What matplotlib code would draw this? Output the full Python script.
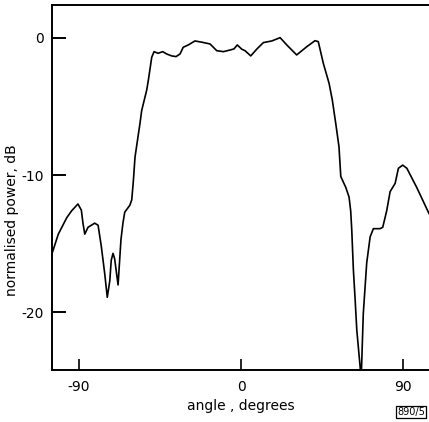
import matplotlib
matplotlib.use("Agg")
import matplotlib.pyplot as plt

plt.rcParams['axes.unicode_minus'] = False
plt.rcParams['font.family'] = ['DejaVu Sans']

angle_deg = [-105.2, -101.5, -96.8, -94.1, -90.6, -88.7, -87.8, -86.8, -85.0, -81.3,
             -79.4, -77.6, -75.7, -74.3, -72.9, -72.1, -71.1, -70.2, -68.3, -67.5,
             -66.7, -65.6, -64.6, -61.8, -60.7, -59.8, -58.9, -57.9, -56.1, -55.2,
             -52.4, -51.5, -49.6, -48.3, -46.1, -43.5, -41.3, -38.5, -36.1, -33.9,
             -32.1, -29.3, -25.6, -21.8, -17.2, -13.5, -9.8, -6.1, -3.9, -2.1,
             0.4, 2.2, 5.4, 8.7, 12.4, 17.1, 21.7, 25.4, 30.9, 36.5,
             41.1, 42.9, 45.7, 48.9, 50.7, 52.6, 54.4, 55.4, 58.2, 60.0,
             60.9, 61.5, 62.4, 63.3, 64.3, 66.1, 66.7, 67.9, 69.8, 71.7,
             73.5, 77.2, 78.7, 80.9, 82.8, 85.6, 87.4, 89.8, 92.1, 97.6, 104.4]
power_db = [-15.8, -14.3, -13.1, -12.6, -12.1, -12.55, -13.5, -14.3, -13.8, -13.5,
            -13.65, -15.2, -17.2, -18.9, -17.7, -16.2, -15.7, -16.1, -18.0, -16.35,
            -14.7, -13.5, -12.7, -12.2, -11.8, -10.4, -8.7, -7.8, -6.2, -5.3,
            -3.8, -3.1, -1.4, -1.0, -1.12, -1.0, -1.17, -1.31, -1.36, -1.17,
            -0.68, -0.51, -0.22, -0.31, -0.44, -0.93, -1.0, -0.88, -0.80, -0.51,
            -0.82, -0.93, -1.31, -0.82, -0.34, -0.22, 0.02, -0.51, -1.24, -0.64,
            -0.2, -0.27, -1.85, -3.31, -4.53, -6.23, -7.93, -10.1, -10.9, -11.6,
            -12.6, -14.0, -16.9, -18.9, -21.3, -23.9, -25.0, -20.1, -16.4, -14.5,
            -13.9, -13.9, -13.8, -12.6, -11.2, -10.6, -9.5, -9.27, -9.5, -10.9, -12.8]

x_ticks = [-90, 0, 90]
y_ticks = [0, -10, -20]

fig = plt.figure(figsize=(4.29, 4.22), dpi=100)
ax = fig.add_axes([52/429, 1-370/422, 1-52/429, (370-5)/422])
ax.plot(angle_deg, power_db, color='black', lw=1.2)
ax.set_xlim(-105, 104.4)
ax.set_ylim(-24.2, 2.4)
ax.set_xticks(x_ticks)
ax.set_xticklabels([str(v) for v in x_ticks])
ax.set_yticks(y_ticks)
ax.set_yticklabels([str(v) for v in y_ticks])
ax.spines['right'].set_visible(False)
for s in ['left', 'top', 'bottom']:
    ax.spines[s].set_linewidth(1.4)
ax.tick_params(axis='y', direction='in', length=10, width=1.4, labelsize=10, pad=6)
ax.tick_params(axis='x', direction='in', length=8, width=1.2, labelsize=10, pad=7)
ax.set_xlabel('angle , degrees', fontsize=10, labelpad=4)
fig.text(12/429, 1-220/422, 'normalised power, dB', rotation=90, fontsize=10,
         ha='center', va='center')
fig.text(411/429, 1-412/422, '890/5', fontsize=7, ha='center', va='center',
         bbox=dict(boxstyle='square,pad=0.12', fc='white', ec='black', lw=0.9))
fig.savefig('out.png', dpi=100)
